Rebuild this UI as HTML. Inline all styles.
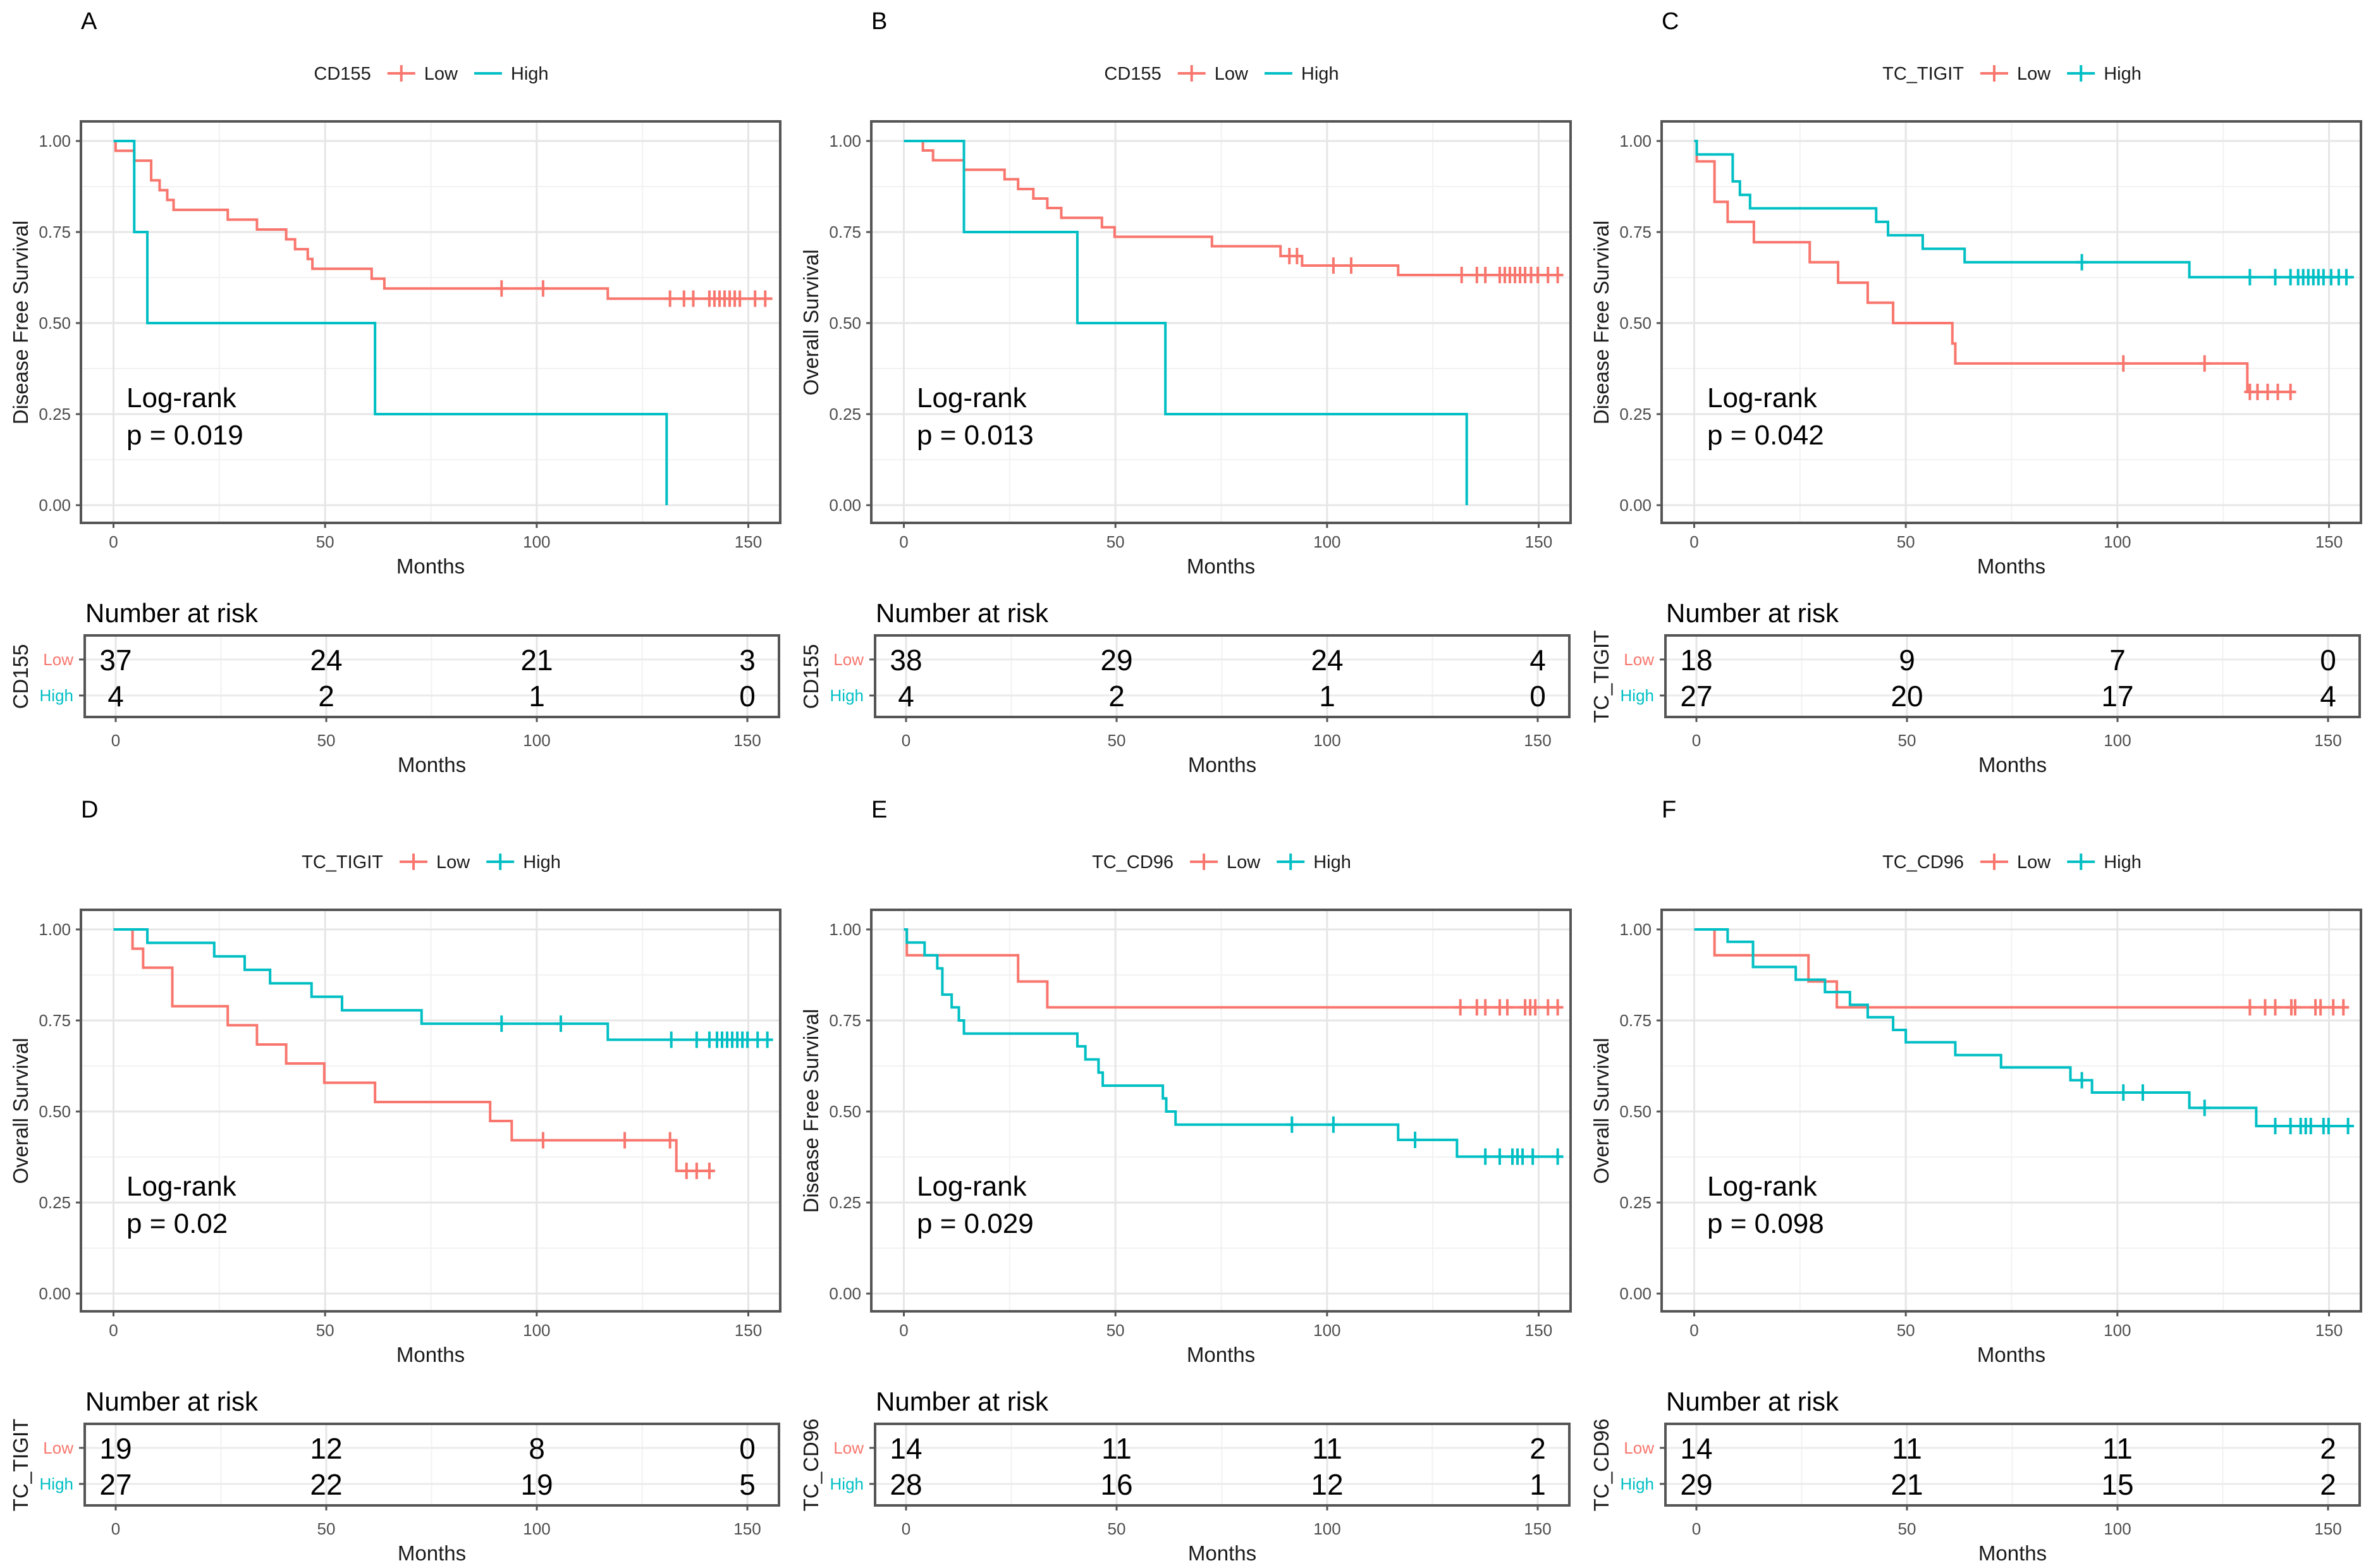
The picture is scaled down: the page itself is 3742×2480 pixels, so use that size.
<!DOCTYPE html>
<html><head><meta charset="utf-8"><style>
html,body{margin:0;padding:0;background:#fff;}
svg{display:block;font-family:"Liberation Sans",Arial,sans-serif;}
</style></head><body>
<svg id="fig" width="3742" height="2480" viewBox="0 0 3742 2480" xmlns="http://www.w3.org/2000/svg"></svg>
<script>
// ---------- data ----------
const panelLetters = ["A","B","C","D","E","F"];
const strataNames = ["CD155","CD155","TC_TIGIT","TC_TIGIT","TC_CD96","TC_CD96"];
const yTitles = ["Disease Free Survival","Overall Survival","Disease Free Survival","Overall Survival","Disease Free Survival","Overall Survival"];
const pValues = ["0.019","0.013","0.042","0.02","0.029","0.098"];
const xTicks = [0,50,100,150];
const yTicks = [0,0.25,0.5,0.75,1];
const yTickLabels = ["0.00","0.25","0.50","0.75","1.00"];

const lowTimes = [
 [0.5,4.9,8.9,10.9,12.7,14.2,27,33.9,40.8,42.9,45.9,47,61,64,116.8],
 [4.5,6.9,14.2,23.8,27,30.6,33.9,37.2,46.8,49.8,72.8,89,94.1,116.8],
 [0.6,4.8,7.9,14.1,27.3,34,41,47,61,61.7,130.7],
 [4.5,7,13.9,27,33.9,40.8,49.8,61.8,89,94.1,133],
 [0.7,27,33.9],
 [4.8,27,33.7]];
const lowSurv = [
 [0.973,0.946,0.892,0.865,0.838,0.811,0.784,0.757,0.730,0.703,0.676,0.649,0.622,0.595,0.567],
 [0.974,0.947,0.921,0.895,0.868,0.842,0.816,0.789,0.763,0.737,0.711,0.684,0.658,0.632],
 [0.944,0.833,0.778,0.722,0.667,0.611,0.556,0.5,0.444,0.389,0.311],
 [0.947,0.895,0.789,0.737,0.684,0.632,0.579,0.526,0.474,0.421,0.337],
 [0.929,0.857,0.786],
 [0.929,0.857,0.786]];
const lowCensor = [
 [91.7,101.5,131.5,134.8,137,140.8,142,143.2,144.4,145.6,146.8,148,151.6,154],
 [91.1,92.9,101.5,105.7,131.8,135.4,137.4,140.8,142,143.2,144.4,145.6,146.8,148.2,149.8,152.2,154.5],
 [101.4,120.6,131.3,133.1,135.5,137.9,140.9],
 [101.5,120.8,131.5,135.4,137.8,140.8],
 [131.5,135.4,137.4,140.8,142.6,146.8,148,149.2,152.2,154.5],
 [131.3,134.9,137.3,141.1,142,146.8,148,151,153.4]];
const lowEnd = [155.7,155.7,141.9,142,155.2,154.6];

const highTimes = [
 [4.9,8,61.8,130.7],
 [14.2,41,61.8,133],
 [0.6,9.1,10.8,13.2,43,45.8,54,63.9,117],
 [8,23.8,31,37,46.8,54,72.8,116.8],
 [0.7,4.9,7.9,9.1,11.3,13,14.2,41,42.9,46,47,61.2,62,64.2,116.8,130.7],
 [7.9,13.9,24,30.9,36.8,41,47,50,61.7,72.5,88.9,94,117,132.8]];
const highSurv = [
 [0.75,0.5,0.25,0],
 [0.75,0.5,0.25,0],
 [0.963,0.889,0.852,0.815,0.778,0.741,0.704,0.667,0.626],
 [0.963,0.926,0.889,0.852,0.815,0.778,0.741,0.697],
 [0.964,0.929,0.893,0.821,0.786,0.75,0.714,0.679,0.643,0.607,0.571,0.536,0.5,0.464,0.422,0.376],
 [0.966,0.897,0.862,0.828,0.793,0.759,0.724,0.690,0.655,0.621,0.586,0.552,0.510,0.460]];
const highCensor = [
 [],[],
 [91.6,131.3,137.3,140.9,142.7,143.9,145.1,146.3,147.5,148.7,150.5,152.3,154.1],
 [91.7,105.7,131.8,137.8,140.8,142.6,143.8,145,146.2,147.4,148.6,149.8,152.2,154.5],
 [91.7,101.5,120.8,137.4,140.8,143.8,145,146.2,148.6,154.5],
 [91.6,101.4,106,120.6,137.3,140.9,143.3,144.5,145.7,148.7,149.9,154.5]];
const highEnd = [130.7,133,155.9,155.7,155.7,155.9];

const riskLow = [[37,24,21,3],[38,29,24,4],[18,9,7,0],[19,12,8,0],[14,11,11,2],[14,11,11,2]];
const riskHigh = [[4,2,1,0],[4,2,1,0],[27,20,17,4],[27,22,19,5],[28,16,12,1],[29,21,15,2]];

// ---------- drawing ----------
const NS="http://www.w3.org/2000/svg";
const RED="#F8766D", TEAL="#00BFC4";
const fig=document.getElementById('fig');
function mk(tag,attrs,parent){const e=document.createElementNS(NS,tag);for(const k in attrs)e.setAttribute(k,attrs[k]);parent.appendChild(e);return e;}
function txt(s,attrs,parent){const e=mk('text',attrs,parent);e.textContent=s;return e;}

const PX0=128,PX1=1234,PY0=192,PY1=827;
const xs=m=>179.5+m*(1004/150);
const ys=v=>799-v*576;
const RX0=134,RX1=1232,RY0=1005,RY1=1134;
const rxs=m=>183+m*(999/150);
const rowLowY=1043,rowHighY=1100;

function stepPath(times,surv,end){
  let d=`M${xs(0)},${ys(1)}`;
  for(let i=0;i<times.length;i++){d+=` H${xs(times[i])} V${ys(surv[i])}`;}
  if(end>times[times.length-1]) d+=` H${xs(end)}`;
  return d;
}
function survAt(times,surv,t){let v=1;for(let i=0;i<times.length;i++){if(times[i]<=t)v=surv[i];}return v;}
function cross(g,x,y,color){
  mk('path',{d:`M${x-9},${y} H${x+9} M${x},${y-13} V${y+13}`,stroke:color,'stroke-width':4,fill:'none'},g);
}

for(let p=0;p<6;p++){
  const ox=(p%3)*1250, oy=Math.floor(p/3)*1247;
  const g=mk('g',{transform:`translate(${ox},${oy})`},fig);
  
  
  const lt=txt(panelLetters[p],{x:128,y:46,'font-size':38,fill:'#000'},g);
  
  

  // legend (measured layout)
  const lg=mk('g',{},g);
  
  
  const lgt=txt(strataNames[p],{x:0,y:126,'font-size':29,fill:'#1a1a1a'},lg);
  
  
  const tw=lgt.getComputedTextLength();
  const le1=mk('g',{},lg);
  
  
  const le2=mk('g',{},lg);
  
  
  const t1=txt('Low',{x:0,y:126,'font-size':29,fill:'#1a1a1a'},le1);
  const t2=txt('High',{x:0,y:126,'font-size':29,fill:'#1a1a1a'},le2);
  const w1=t1.getComputedTextLength(), w2=t2.getComputedTextLength();
  const total=tw+26+44+14+w1+26+44+14+w2;
  let lx=682-total/2;
  lgt.setAttribute('x',lx);
  lx+=tw+26;
  mk('line',{x1:lx,x2:lx+44,y1:116,y2:116,stroke:RED,'stroke-width':4},le1);
  cross(le1,lx+22,116,RED);
  t1.setAttribute('x',lx+58);
  lx+=58+w1+26;
  mk('line',{x1:lx,x2:lx+44,y1:116,y2:116,stroke:TEAL,'stroke-width':4},le2);
  if(highCensor[p].length) cross(le2,lx+22,116,TEAL);
  t2.setAttribute('x',lx+58);

  // grid
  const grid=mk('g',{},g);
  
  
  [25,75,125].forEach(m=>mk('line',{x1:xs(m),x2:xs(m),y1:PY0,y2:PY1,stroke:'#f2f2f2','stroke-width':2},grid));
  [0.125,0.375,0.625,0.875].forEach(v=>mk('line',{x1:PX0,x2:PX1,y1:ys(v),y2:ys(v),stroke:'#f2f2f2','stroke-width':2},grid));
  xTicks.forEach(m=>mk('line',{x1:xs(m),x2:xs(m),y1:PY0,y2:PY1,stroke:'#e6e6e6','stroke-width':3},grid));
  yTicks.forEach(v=>mk('line',{x1:PX0,x2:PX1,y1:ys(v),y2:ys(v),stroke:'#e6e6e6','stroke-width':3},grid));

  // curves
  const lowG=mk('g',{},g);
  
  
  mk('path',{d:stepPath(lowTimes[p],lowSurv[p],lowEnd[p]),stroke:RED,'stroke-width':4,fill:'none'},lowG);
  lowCensor[p].forEach(t=>cross(lowG,xs(t),ys(survAt(lowTimes[p],lowSurv[p],t)),RED));
  const highG=mk('g',{},g);
  
  
  mk('path',{d:stepPath(highTimes[p],highSurv[p],highEnd[p]),stroke:TEAL,'stroke-width':4,fill:'none'},highG);
  highCensor[p].forEach(t=>cross(highG,xs(t),ys(survAt(highTimes[p],highSurv[p],t)),TEAL));

  const fr=mk('rect',{x:PX0,y:PY0,width:PX1-PX0,height:PY1-PY0,fill:'none',stroke:'#555','stroke-width':4},g);
  
  

  const ax=mk('g',{},g);
  
  
  yTicks.forEach((v,i)=>{
    mk('line',{x1:PX0-8,x2:PX0,y1:ys(v),y2:ys(v),stroke:'#555','stroke-width':3},ax);
    txt(yTickLabels[i],{x:112,y:ys(v)+9,'font-size':26,fill:'#4d4d4d','text-anchor':'end'},ax);
  });
  xTicks.forEach(m=>{
    mk('line',{x1:xs(m),x2:xs(m),y1:PY1,y2:PY1+8,stroke:'#555','stroke-width':3},ax);
    txt(String(m),{x:xs(m),y:866,'font-size':26,fill:'#4d4d4d','text-anchor':'middle'},ax);
  });
  const xt=txt('Months',{x:681,y:907,'font-size':33,fill:'#1a1a1a','text-anchor':'middle'},g);
  
  
  const yt=txt(yTitles[p],{x:0,y:0,'font-size':33,fill:'#1a1a1a','text-anchor':'middle',transform:`translate(44,510) rotate(-90)`},g);
  
  

  const an=mk('g',{},g);
  
  
  txt('Log-rank',{x:200,y:644,'font-size':44,fill:'#000'},an);
  txt('p = '+pValues[p],{x:200,y:703,'font-size':44,fill:'#000'},an);

  const rt=mk('g',{},g);
  
  
  txt('Number at risk',{x:135,y:984,'font-size':42,fill:'#000'},rt);
  [25,75,125].forEach(m=>mk('line',{x1:rxs(m),x2:rxs(m),y1:RY0,y2:RY1,stroke:'#f2f2f2','stroke-width':2},rt));
  xTicks.forEach(m=>mk('line',{x1:rxs(m),x2:rxs(m),y1:RY0,y2:RY1,stroke:'#e6e6e6','stroke-width':3},rt));
  [rowLowY,rowHighY].forEach(y=>mk('line',{x1:RX0,x2:RX1,y1:y,y2:y,stroke:'#ebebeb','stroke-width':3},rt));
  riskLow[p].forEach((n,i)=>txt(String(n),{x:rxs(xTicks[i]),y:rowLowY+17,'font-size':46,fill:'#000','text-anchor':'middle'},rt));
  riskHigh[p].forEach((n,i)=>txt(String(n),{x:rxs(xTicks[i]),y:rowHighY+17,'font-size':46,fill:'#000','text-anchor':'middle'},rt));
  mk('rect',{x:RX0,y:RY0,width:RX1-RX0,height:RY1-RY0,fill:'none',stroke:'#555','stroke-width':4},rt);
  mk('line',{x1:RX0-9,x2:RX0,y1:rowLowY,y2:rowLowY,stroke:'#555','stroke-width':3},rt);
  mk('line',{x1:RX0-9,x2:RX0,y1:rowHighY,y2:rowHighY,stroke:'#555','stroke-width':3},rt);
  txt('Low',{x:116,y:rowLowY+9,'font-size':26,fill:RED,'text-anchor':'end'},rt);
  txt('High',{x:116,y:rowHighY+9,'font-size':26,fill:TEAL,'text-anchor':'end'},rt);
  xTicks.forEach(m=>{
    mk('line',{x1:rxs(m),x2:rxs(m),y1:RY1,y2:RY1+8,stroke:'#555','stroke-width':3},rt);
    txt(String(m),{x:rxs(m),y:1180,'font-size':26,fill:'#4d4d4d','text-anchor':'middle'},rt);
  });
  txt('Months',{x:683,y:1221,'font-size':33,fill:'#1a1a1a','text-anchor':'middle'},rt);
  txt(strataNames[p],{x:0,y:0,'font-size':33,fill:'#1a1a1a','text-anchor':'middle',transform:`translate(44,1070) rotate(-90)`},rt);
}
</script>
</body></html>
